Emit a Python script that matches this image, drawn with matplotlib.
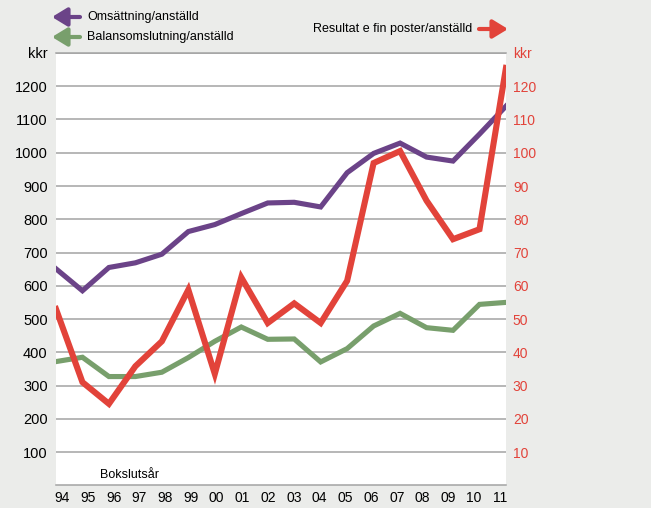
import numpy as np
import matplotlib.pyplot as plt

plt.rcParams['font.family'] = ['Liberation Sans', 'DejaVu Sans']

years = ['94', '95', '96', '97', '98', '99', '00', '01', '02', '03',
         '04', '05', '06', '07', '08', '09', '10', '11']
omsattning = [651, 585, 655, 669, 695, 763, 784, 817, 849, 851,
              837, 940, 998, 1029, 987, 975, 1056, 1140]
balans = [372, 385, 327, 327, 340, 384, 433, 476, 439, 440,
          371, 411, 479, 517, 474, 466, 544, 550]
resultat = [53, 31, 24.5, 35.8, 43.3, 58.8, 33.5, 62.5, 48.8, 54.7,
            48.8, 61.5, 96.9, 100.5, 85.6, 74, 77, 125.5]

left_ticks = list(range(100, 1400, 100))
left_labels = [str(v) for v in left_ticks[:-1]] + ['kkr']
right_ticks = list(range(10, 140, 10))
right_labels = [str(v) for v in right_ticks[:-1]] + ['kkr']

purple = '#6b4388'
green = '#789f6c'
red = '#e2433a'
grid_col = '#a3a3a3'
bg = '#ebecea'

fig = plt.figure(figsize=(6.51, 5.08), dpi=100, facecolor=bg)
ax = fig.add_axes([0.086, 0.0447, 0.6912, 0.851])
ax.set_facecolor('white')

x = np.arange(len(years))
ax.plot(x, omsattning, color=purple, lw=3.7, solid_joinstyle='miter', zorder=3)
ax.plot(x, balans, color=green, lw=3.7, solid_joinstyle='miter', zorder=3)

ax.set_xlim(0, len(years) - 1)
ax.set_ylim(0, 1300)
ax.set_yticks(left_ticks)
ax.set_yticklabels(left_labels, fontsize=10.5)
ax.yaxis.grid(True, color=grid_col, lw=1.1)
ax.set_axisbelow(True)
ax.tick_params(axis='y', length=0, pad=6)

# year labels sit a bit inside the first and last data points
ax.set_xticks(np.linspace(0.23, len(years) - 1.23, len(years)))
ax.set_xticklabels(years, fontsize=10)
ax.tick_params(axis='x', length=0, pad=4)

for s in ['left', 'right']:
    ax.spines[s].set_visible(False)
for s in ['top', 'bottom']:
    ax.spines[s].set_color(grid_col)
    ax.spines[s].set_linewidth(1.1)

ax2 = ax.twinx()
ax2.plot(x, resultat, color=red, lw=4.4, solid_joinstyle='miter', zorder=4)
ax2.set_ylim(0, 130)
ax2.set_yticks(right_ticks)
ax2.set_yticklabels(right_labels, fontsize=10, color=red)
ax2.tick_params(axis='y', length=0, pad=5)
for s in ax2.spines.values():
    s.set_visible(False)

ax.text(0.097, 0.018, 'Bokslutsår', transform=ax.transAxes, fontsize=9)

# legend arrows
H = 508
def arrow(x0, x1, y, col):
    ax.annotate('', xy=(x1, H - y), xytext=(x0, H - y),
                xycoords='figure pixels', textcoords='figure pixels',
                arrowprops=dict(arrowstyle='-|>,head_length=0.9,head_width=0.55',
                                lw=3, color=col, shrinkA=0, shrinkB=0),
                annotation_clip=False)

arrow(80, 52, 17, purple)
arrow(80, 52, 37, green)
arrow(479, 508, 29, red)

fig.text(87 / 651, 1 - 17 / H, 'Omsättning/anställd', fontsize=9, va='center')
fig.text(87 / 651, 1 - 37 / H, 'Balansomslutning/anställd', fontsize=9, va='center')
fig.text(472 / 651, 1 - 29 / H, 'Resultat e fin poster/anställd', fontsize=9,
         va='center', ha='right')

fig.savefig('out.png', dpi=100, facecolor=bg)
